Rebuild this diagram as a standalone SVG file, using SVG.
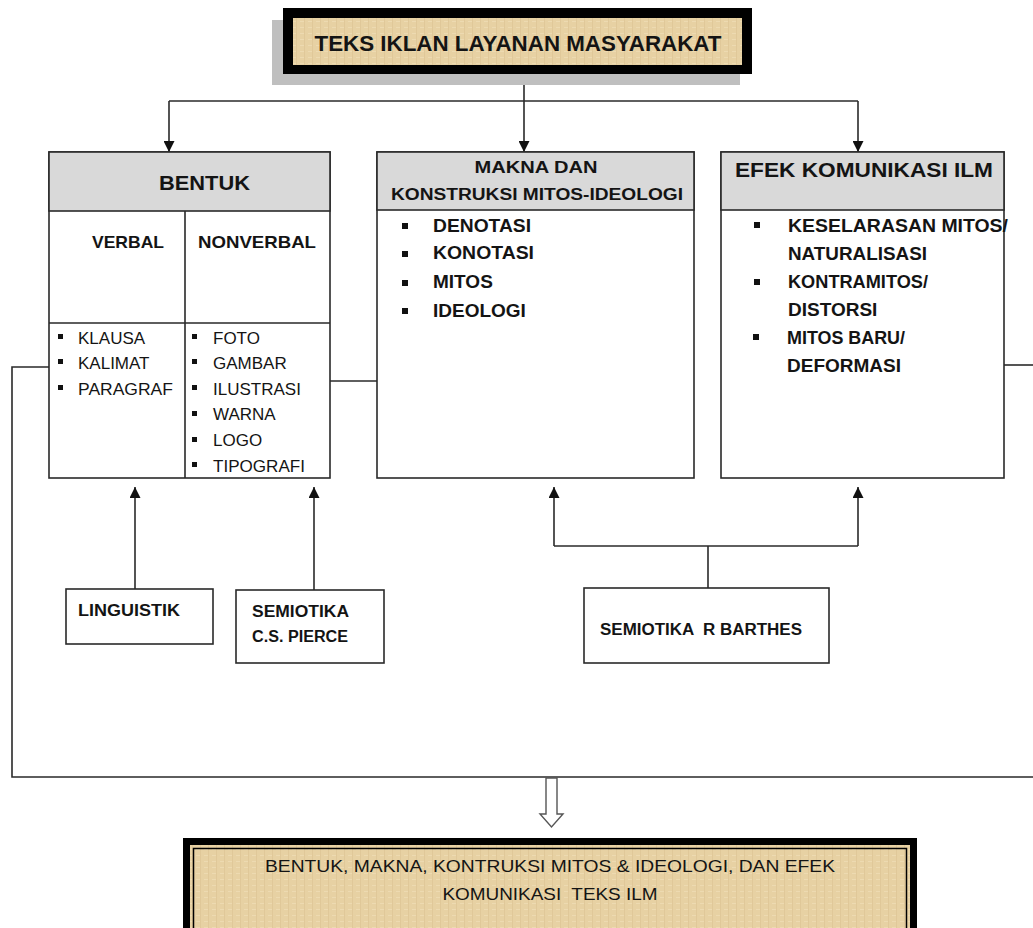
<svg xmlns="http://www.w3.org/2000/svg" width="1033" height="928" viewBox="0 0 1033 928">
<defs>
<style>
.t{font-family:"Liberation Sans",Arial,sans-serif;fill:#141414}
.b{font-weight:bold}
.box{fill:#fff;stroke:#2a2a2a;stroke-width:1.6}
.hdr{fill:#d9d9d9;stroke:#2a2a2a;stroke-width:1.6}
.ln{fill:none;stroke:#2a2a2a;stroke-width:1.6}
.bul{fill:#111}
</style>
<pattern id="tex" width="8" height="6" patternUnits="userSpaceOnUse">
<rect width="8" height="6" fill="#e7d1a3"/>
<rect x="0" y="0" width="1" height="6" fill="#d9c08f" opacity="0.5"/>
<rect x="4" y="3" width="4" height="1" fill="#f1e0ba" opacity="0.6"/>
</pattern>
<marker id="ah" viewBox="0 0 10 10" refX="10" refY="5" markerWidth="11" markerHeight="11" markerUnits="userSpaceOnUse" orient="auto">
<path d="M0,0 L10,5 L0,10 z" fill="#111"/>
</marker>
</defs>
<rect width="1033" height="928" fill="#fff"/>

<g id="connectors">
<path class="ln" d="M524,74 V101"/>
<path class="ln" d="M169,101 H858"/>
<path class="ln" d="M169,101 V152" marker-end="url(#ah)"/>
<path class="ln" d="M524,101 V152" marker-end="url(#ah)"/>
<path class="ln" d="M858,101 V152" marker-end="url(#ah)"/>
<path class="ln" d="M330,381 H377"/>
<path class="ln" d="M49,367 H12 V777 H1033"/>
<path class="ln" d="M1004,365 H1033"/>
<path class="ln" d="M135,589 V487" marker-end="url(#ah)"/>
<path class="ln" d="M314,590 V487" marker-end="url(#ah)"/>
<path class="ln" d="M708,588 V546"/>
<path class="ln" d="M554,546 H858"/>
<path class="ln" d="M554,546 V487" marker-end="url(#ah)"/>
<path class="ln" d="M858,546 V487" marker-end="url(#ah)"/>
<path d="M546,778 H557 V814 H563 L551.5,827 L540,814 H546 Z" fill="#fff" stroke="#555" stroke-width="1.4"/>
</g>

<g id="title">
<rect x="272" y="20" width="468" height="65" fill="#bfbfbf"/>
<rect x="283" y="8" width="469" height="66" fill="#000"/>
<rect x="293" y="18" width="449" height="47" fill="url(#tex)"/>
<text class="t b" x="518" y="51" font-size="22" text-anchor="middle" textLength="407" lengthAdjust="spacingAndGlyphs">TEKS IKLAN LAYANAN MASYARAKAT</text>
</g>

<g id="bentuk">
<rect class="box" x="49" y="152" width="281" height="326"/>
<rect class="hdr" x="49" y="152" width="281" height="59"/>
<path class="ln" d="M185,211 V478 M49,323 H330"/>
<text class="t b" x="159" y="190" font-size="21" textLength="91" lengthAdjust="spacingAndGlyphs">BENTUK</text>
<text class="t b" x="92" y="248" font-size="17" textLength="72" lengthAdjust="spacingAndGlyphs">VERBAL</text>
<text class="t b" x="198" y="248" font-size="17" textLength="118" lengthAdjust="spacingAndGlyphs">NONVERBAL</text>
<g class="bul">
<rect x="58" y="334" width="5" height="5"/><rect x="58" y="359" width="5" height="5"/><rect x="58" y="385" width="5" height="5"/>
<rect x="192" y="334" width="5" height="5"/><rect x="192" y="359" width="5" height="5"/><rect x="192" y="385" width="5" height="5"/>
<rect x="192" y="411" width="5" height="5"/><rect x="192" y="437" width="5" height="5"/><rect x="192" y="462" width="5" height="5"/>
</g>
<g class="t" font-size="17">
<text x="78" y="344">KLAUSA</text>
<text x="78" y="369">KALIMAT</text>
<text x="78" y="395" textLength="95" lengthAdjust="spacingAndGlyphs">PARAGRAF</text>
<text x="213" y="344">FOTO</text>
<text x="213" y="369">GAMBAR</text>
<text x="213" y="395">ILUSTRASI</text>
<text x="213" y="420">WARNA</text>
<text x="213" y="446">LOGO</text>
<text x="213" y="472" textLength="92" lengthAdjust="spacingAndGlyphs">TIPOGRAFI</text>
</g>
</g>

<g id="makna">
<rect class="box" x="377" y="152" width="317" height="326"/>
<rect class="hdr" x="377" y="152" width="317" height="58"/>
<text class="t b" x="536" y="173" font-size="16" text-anchor="middle" textLength="123" lengthAdjust="spacingAndGlyphs">MAKNA DAN</text>
<text class="t b" x="537" y="200" font-size="16" text-anchor="middle" textLength="292" lengthAdjust="spacingAndGlyphs">KONSTRUKSI MITOS-IDEOLOGI</text>
<g class="bul">
<rect x="402" y="223" width="6" height="6"/><rect x="402" y="251" width="6" height="6"/><rect x="402" y="280" width="6" height="6"/><rect x="402" y="308" width="6" height="6"/>
</g>
<g class="t b" font-size="19">
<text x="433" y="232" textLength="98" lengthAdjust="spacingAndGlyphs">DENOTASI</text>
<text x="433" y="259" textLength="101" lengthAdjust="spacingAndGlyphs">KONOTASI</text>
<text x="433" y="288">MITOS</text>
<text x="433" y="317">IDEOLOGI</text>
</g>
</g>

<g id="efek">
<rect class="box" x="721" y="152" width="283" height="326"/>
<rect class="hdr" x="721" y="152" width="283" height="58"/>
<text class="t b" x="735" y="177" font-size="21" textLength="258" lengthAdjust="spacingAndGlyphs">EFEK KOMUNIKASI ILM</text>
<g class="bul">
<rect x="754" y="222" width="6" height="6"/><rect x="754" y="279" width="6" height="6"/><rect x="753" y="334" width="6" height="6"/>
</g>
<g class="t b" font-size="19">
<text x="788" y="232" textLength="220" lengthAdjust="spacingAndGlyphs">KESELARASAN MITOS/</text>
<text x="788" y="260" textLength="139" lengthAdjust="spacingAndGlyphs">NATURALISASI</text>
<text x="788" y="288" textLength="140" lengthAdjust="spacingAndGlyphs">KONTRAMITOS/</text>
<text x="788" y="316">DISTORSI</text>
<text x="787" y="344" textLength="118" lengthAdjust="spacingAndGlyphs">MITOS BARU/</text>
<text x="787" y="372">DEFORMASI</text>
</g>
</g>

<g id="linguistik">
<rect class="box" x="66" y="589" width="147" height="55"/>
<text class="t b" x="78" y="616" font-size="16" textLength="102" lengthAdjust="spacingAndGlyphs">LINGUISTIK</text>
</g>

<g id="pierce">
<rect class="box" x="236" y="590" width="148" height="73"/>
<text class="t b" x="252" y="617" font-size="16" textLength="97" lengthAdjust="spacingAndGlyphs">SEMIOTIKA</text>
<text class="t b" x="252" y="642" font-size="16" textLength="96" lengthAdjust="spacingAndGlyphs">C.S. PIERCE</text>
</g>

<g id="barthes">
<rect class="box" x="584" y="588" width="245" height="75"/>
<text class="t b" x="600" y="635" font-size="16" textLength="202" lengthAdjust="spacingAndGlyphs" xml:space="preserve">SEMIOTIKA  R BARTHES</text>
</g>

<g id="result">
<rect x="183" y="838" width="734" height="100" fill="#000"/>
<rect x="190" y="845" width="720" height="90" fill="url(#tex)"/>
<rect x="193.5" y="848.5" width="713" height="90" fill="none" stroke="#000" stroke-width="1.5"/>
<text class="t" x="550" y="872" font-size="17" text-anchor="middle" textLength="570" lengthAdjust="spacingAndGlyphs">BENTUK, MAKNA, KONTRUKSI MITOS &amp; IDEOLOGI, DAN EFEK</text>
<text class="t" x="550" y="900" font-size="17" text-anchor="middle" textLength="215" lengthAdjust="spacingAndGlyphs" xml:space="preserve">KOMUNIKASI  TEKS ILM</text>
</g>
</svg>
